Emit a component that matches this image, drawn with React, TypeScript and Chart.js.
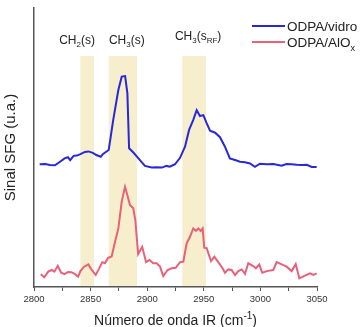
import React, { useEffect, useRef } from 'react';
import { Chart, registerables } from 'chart.js';
Chart.register(...registerables);

// ODPA/vidro (blue)
const vidroX = [2805, 2810, 2814, 2818.5, 2823, 2827, 2830, 2832, 2835, 2838, 2841, 2845, 2848, 2852, 2855, 2859, 2861, 2866, 2870, 2874.5, 2877.5, 2880.5, 2882.5, 2884, 2888, 2893.6, 2898, 2904, 2908, 2913, 2917, 2920, 2924.6, 2929, 2933.4, 2937, 2940.7, 2943.7, 2946.6, 2949.6, 2952.5, 2955.5, 2960, 2964.3, 2968.7, 2973, 2977.6, 2982, 2986.4, 2990.8, 2995.2, 2999.6, 3005.6, 3011.4, 3018.8, 3023, 3027.6, 3032, 3036.5, 3041, 3045.3, 3049.7];
const vidroY = [4.40, 4.41, 4.37, 4.36, 4.49, 4.61, 4.65, 4.55, 4.70, 4.71, 4.76, 4.84, 4.86, 4.81, 4.73, 4.67, 4.77, 4.91, 5.99, 7.06, 7.54, 7.56, 6.94, 4.97, 4.81, 4.55, 4.34, 4.28, 4.29, 4.28, 4.34, 4.31, 4.40, 4.63, 5.03, 5.63, 5.99, 6.34, 6.13, 6.16, 5.87, 5.60, 5.53, 5.37, 5.03, 4.61, 4.55, 4.49, 4.47, 4.43, 4.31, 4.42, 4.40, 4.41, 4.35, 4.41, 4.40, 4.38, 4.37, 4.38, 4.30, 4.30];

// ODPA/AlOx (red)
const aloxX = [2806, 2809, 2812.6, 2815.6, 2818, 2821, 2824, 2827, 2830, 2833, 2836, 2839, 2841, 2844, 2848, 2851, 2854.5, 2857.4, 2860.3, 2862.7, 2865.6, 2868.6, 2871.6, 2874.5, 2877.5, 2880.4, 2882.4, 2884.8, 2887.7, 2889.5, 2892, 2895.6, 2899, 2902, 2905.4, 2908.4, 2911.3, 2914.2, 2918, 2921.6, 2925.2, 2929, 2931.9, 2934.9, 2937.8, 2940.7, 2943.1, 2945.1, 2947.2, 2949, 2950.4, 2952.5, 2956.4, 2959.3, 2962.8, 2966.3, 2968.7, 2971.6, 2974.6, 2977.6, 2980.5, 2983.5, 2986.4, 2989.3, 2993.7, 2996, 2999, 3001.7, 3005.6, 3011.4, 3014.4, 3018.8, 3023.2, 3027.6, 3031.2, 3034.4, 3039.4, 3043.8, 3046.8, 3049.7];
const aloxY = [0.46, 0.35, 0.55, 0.61, 0.55, 0.76, 0.51, 0.46, 0.54, 0.53, 0.47, 0.37, 0.57, 0.72, 0.81, 0.61, 0.43, 0.65, 0.89, 0.85, 1.05, 1.09, 1.62, 2.10, 3.06, 3.59, 3.30, 2.94, 2.82, 2.40, 1.18, 1.44, 0.89, 0.97, 0.85, 0.85, 0.73, 0.39, 0.61, 0.67, 0.69, 0.89, 0.91, 1.57, 1.80, 2.10, 2.01, 2.10, 2.01, 2.10, 1.41, 1.39, 0.93, 1.09, 0.89, 0.69, 0.51, 0.63, 0.61, 0.43, 0.57, 0.63, 0.47, 0.85, 0.75, 0.67, 0.81, 0.51, 0.57, 0.61, 0.89, 0.81, 0.73, 0.57, 0.82, 0.31, 0.41, 0.49, 0.43, 0.49];

// Shaded vibrational bands (cm-1)
const bandStart = [2841, 2866, 2931];
const bandEnd = [2853, 2891, 2952];
const bandTop = 8.28;

// Band labels
const bandLabels: Array<Array<[string, string]>> = [
  [['CH', 'n'], ['2', 'sub'], ['(s)', 'n']],
  [['CH', 'n'], ['3', 'sub'], ['(s)', 'n']],
  [['CH', 'n'], ['3', 'sub'], ['(s', 'n'], ['RF', 'sub'], [')', 'n']],
];
const bandLabelX = [2838, 2882, 2945];
const bandLabelY = [8.71, 8.71, 8.85];

const xMin = 2800;
const xMax = 3050;
const xStep = 25;
const xLabelStep = 50;

const FONT = '"Liberation Sans", Arial, Helvetica, sans-serif';
const BLUE = '#2828d8';
const RED = '#e9607a';
const AXIS = '#555555';
const TEXT = '#222222';

function drawRich(ctx: CanvasRenderingContext2D, parts: Array<[string, string]>, x: number, baseline: number, size: number, align: 'center' | 'left') {
  const fontFor = (k: string) => `${k === 'n' ? size : Math.round(size * 0.68)}px ${FONT}`;
  let total = 0;
  for (const [t, k] of parts) {
    ctx.font = fontFor(k);
    total += ctx.measureText(t).width;
  }
  let cx = align === 'center' ? x - total / 2 : x;
  ctx.textAlign = 'left';
  ctx.textBaseline = 'alphabetic';
  for (const [t, k] of parts) {
    ctx.font = fontFor(k);
    const dy = k === 'sub' ? size * 0.28 : k === 'sup' ? -size * 0.42 : 0;
    ctx.fillText(t, cx, baseline + dy);
    cx += ctx.measureText(t).width;
  }
}

const decorPlugin = {
  id: 'decor',
  beforeDatasetsDraw(chart: any) {
    const { ctx, scales } = chart;
    const x = scales.x, y = scales.y;
    ctx.save();
    ctx.fillStyle = '#f6eecc';
    bandStart.forEach((s, i) => {
      const x0 = x.getPixelForValue(s);
      const x1 = x.getPixelForValue(bandEnd[i]);
      const y0 = y.getPixelForValue(bandTop);
      const y1 = y.getPixelForValue(0) - 1;
      ctx.fillRect(x0, y0, x1 - x0, y1 - y0);
    });
    ctx.restore();
  },
  afterDraw(chart: any) {
    const { ctx, scales, chartArea } = chart;
    const x = scales.x, y = scales.y;
    ctx.save();
    ctx.fillStyle = TEXT;
    bandLabels.forEach((parts, i) => {
      drawRich(ctx, parts, x.getPixelForValue(bandLabelX[i]), y.getPixelForValue(bandLabelY[i]), 12, 'center');
    });
    // legend
    const lx0 = chartArea.right - 65;
    const lx1 = chartArea.right - 32;
    const rows: Array<[string, Array<[string, string]>, number]> = [
      [BLUE, [['ODPA/vidro', 'n']], chartArea.top + 18],
      [RED, [['ODPA/AlO', 'n'], ['x', 'sub']], chartArea.top + 34],
    ];
    for (const [color, parts, ly] of rows) {
      ctx.strokeStyle = color;
      ctx.lineWidth = 2;
      ctx.beginPath();
      ctx.moveTo(lx0, ly);
      ctx.lineTo(lx1, ly);
      ctx.stroke();
      ctx.fillStyle = TEXT;
      drawRich(ctx, parts, lx1 + 2, ly + 5, 13.5, 'left');
    }
    // x title
    drawRich(ctx, [['Número de onda IR (cm', 'n'], ['-1', 'sup'], [')', 'n']], (chartArea.left + chartArea.right) / 2, chart.height - 2, 14, 'center');
    ctx.restore();
  },
};

export default function App() {
  const ref = useRef<HTMLCanvasElement | null>(null);
  useEffect(() => {
    if (!ref.current) return;
    const chart = new Chart(ref.current, {
      type: 'line',
      data: {
        datasets: [
          {
            label: 'ODPA/vidro',
            data: vidroX.map((v, i) => ({ x: v, y: vidroY[i] })),
            borderColor: BLUE,
            borderWidth: 2,
            pointRadius: 0,
            tension: 0,
            fill: false,
          },
          {
            label: 'ODPA/AlOx',
            data: aloxX.map((v, i) => ({ x: v, y: aloxY[i] })),
            borderColor: RED,
            borderWidth: 2,
            pointRadius: 0,
            tension: 0,
            fill: false,
          },
        ],
      },
      options: {
        animation: false,
        responsive: false,
        layout: { padding: { top: 8, right: 46, left: 0, bottom: 0 } },
        plugins: { legend: { display: false }, tooltip: { enabled: false } },
        scales: {
          x: {
            type: 'linear',
            min: xMin,
            max: xMax,
            afterFit: (s: any) => { s.height = 40; },
            border: { display: true, color: AXIS, width: 1.5 },
            grid: { display: true, drawOnChartArea: false, drawTicks: true, tickLength: 4, color: AXIS, tickColor: AXIS, lineWidth: 1 },
            ticks: {
              stepSize: xStep,
              autoSkip: false,
              maxRotation: 0,
              padding: 3,
              color: '#333',
              font: { family: FONT, size: 9.5 },
              callback: (v: any) => (Number(v) % xLabelStep === 0 ? String(v) : ''),
            },
          },
          y: {
            type: 'linear',
            min: 0,
            max: 10,
            afterFit: (s: any) => { s.width = 34; },
            border: { display: true, color: AXIS, width: 1.5 },
            grid: { display: false },
            ticks: { display: false },
            title: {
              display: true,
              text: 'Sinal SFG (u.a.)',
              color: TEXT,
              font: { family: FONT, size: 15 },
              padding: { top: 2, bottom: 0 },
            },
          },
        },
      },
      plugins: [decorPlugin],
    } as any);
    return () => chart.destroy();
  }, []);
  return (
    <div style={{ position: 'absolute', left: 0, top: 0, width: 363, height: 327, background: '#fff' }}>
      <canvas ref={ref} width={363} height={327} style={{ display: 'block' }} />
    </div>
  );
}
